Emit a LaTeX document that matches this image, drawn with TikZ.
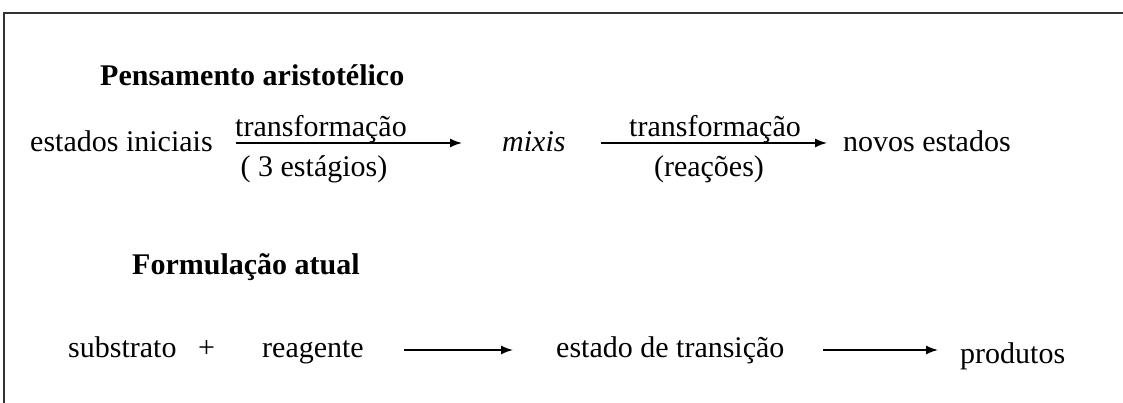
\documentclass[tikz,border=0pt]{standalone}
\usepackage{fontspec}
\setmainfont{Liberation Serif}
\usetikzlibrary{arrows.meta,positioning}
\tikzset{
	every picture/.style={x=1pt,y=-1pt},
	txt/.style={anchor=base west,inner sep=0pt,font=\fontsize{30}{36}\selectfont},
	titulo/.style={txt,font=\fontsize{30}{36}\selectfont\bfseries},
	seta/.style={-{Latex[length=12pt,width=9pt]},line width=1.5pt},
	rotulo/.style={anchor=base,inner sep=0pt,font=\fontsize{30}{36}\selectfont}
}
\begin{document}
\begin{tikzpicture}
\useasboundingbox (0,0) rectangle (1123,403);
% moldura
\draw[line width=1.4pt,black!80] (4,403) -- (4,13) -- (1123,13);

% pensamento aristotelico
\node[titulo] (tit1) at (100,86) {Pensamento aristotélico};
\node[txt] (ini) at (30,152) {estados iniciais};
\node[txt] (mixis) at (502,152) {\itshape mixis};
\node[txt] (novos) at (843,152) {novos estados};
\draw[seta,shorten <=23pt,shorten >=40pt] ([yshift=9pt]ini.base east) -- ([yshift=9pt]mixis.base west);
\draw[seta,shorten <=35pt,shorten >=16pt] ([yshift=9pt]mixis.base east) -- ([yshift=9pt]novos.base west);
\node[rotulo] (tr1) at (321,137) {transformação};
\node[rotulo] (est) at (314,177) {( 3 estágios)};
\node[rotulo] (tr2) at (715,137) {transformação};
\node[rotulo] (rea) at (709,177) {(reações)};

% formulacao atual
\node[titulo] (tit2) at (132,274) {Formulação atual};
\node[txt] (subs) at (68,357) {substrato};
\node[txt] (mais) at (198,357) {+};
\node[txt] (reag) at (262,357) {reagente};
\node[txt] (trans) at (556,357) {estado de transição};
\node[txt] (prod) at (960,363) {produtos};
\draw[seta,shorten <=40pt,shorten >=43pt] ([yshift=7pt]reag.base east) -- ([yshift=7pt]trans.base west);
\draw[seta,shorten <=38pt,shorten >=22pt] ([yshift=7pt]trans.base east) -- ([yshift=7pt]trans.base east -| prod.west);
\end{tikzpicture}
\end{document}
